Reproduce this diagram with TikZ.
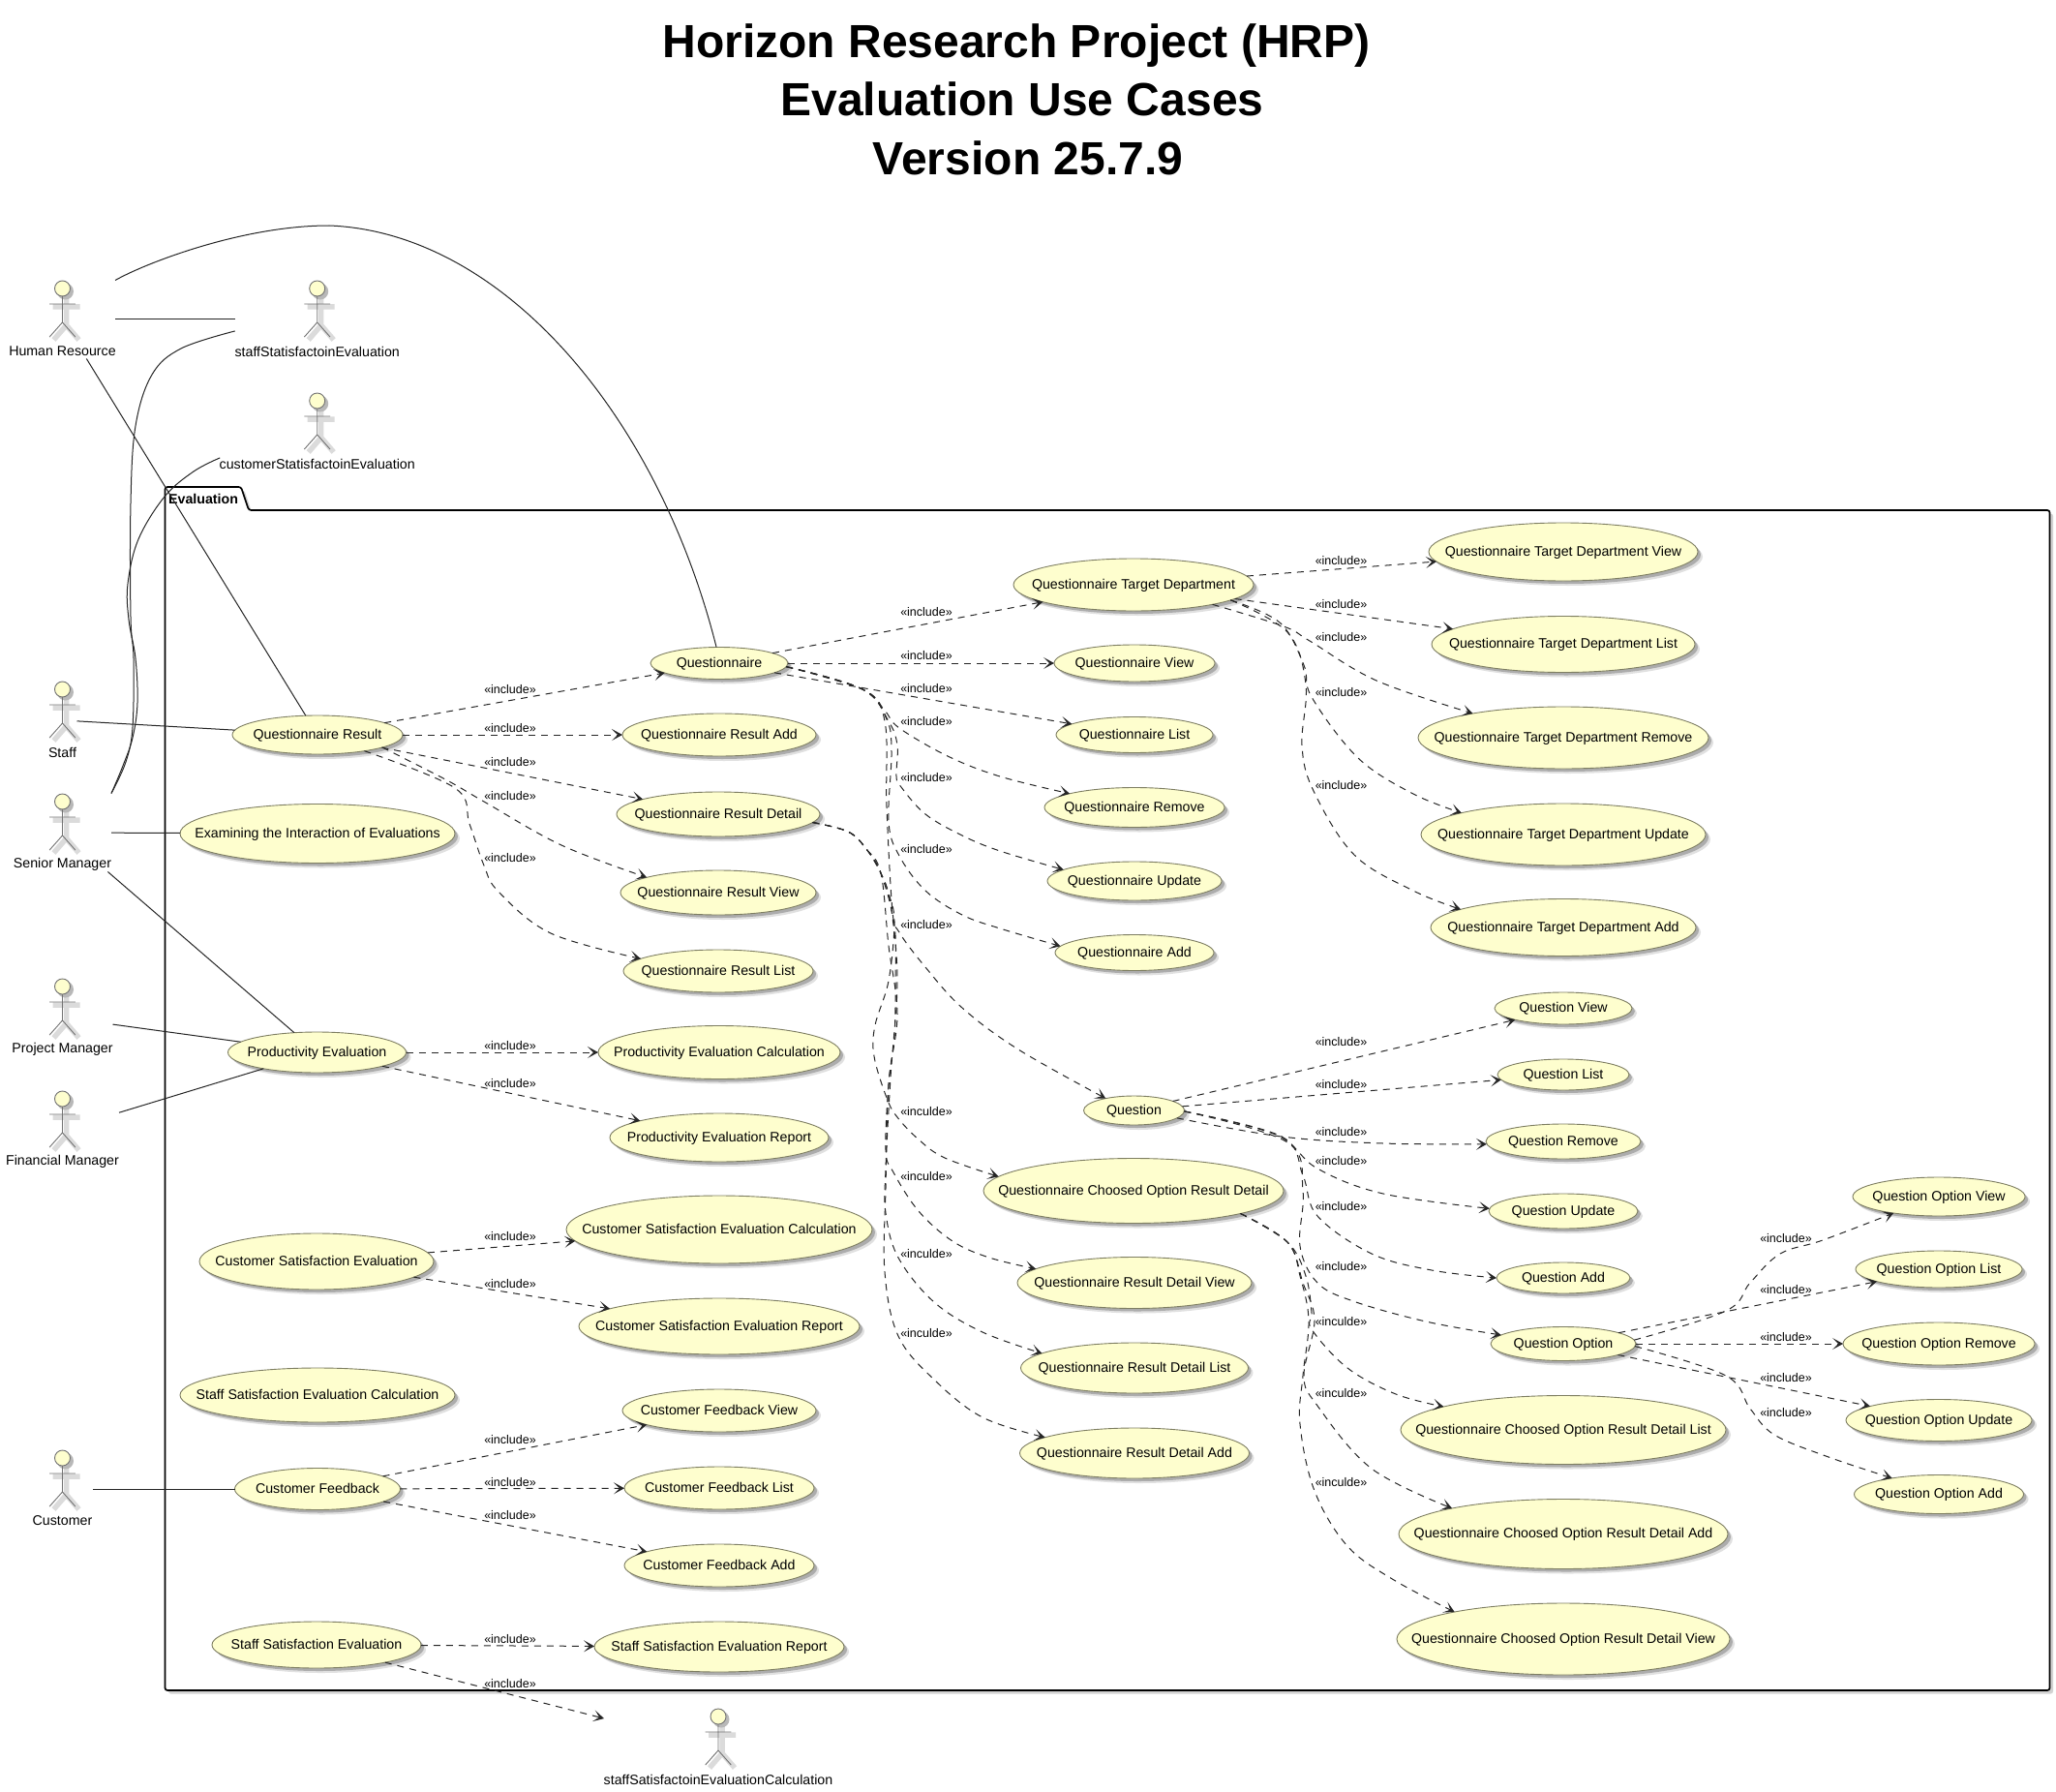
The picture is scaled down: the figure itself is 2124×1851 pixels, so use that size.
\documentclass[tikz,border=0pt]{standalone}
\usepackage{fontspec}
\setmainfont{Liberation Sans}
\usetikzlibrary{shapes.geometric,shadows,arrows.meta}
\definecolor{ucfill}{HTML}{FEFECE}
\definecolor{ucline}{HTML}{7E7E62}
\definecolor{lnk}{HTML}{262626}
\tikzset{
  ucase/.style={ellipse,draw=ucline,fill=ucfill,line width=.9pt,inner sep=0pt,outer sep=0pt,
    drop shadow={shadow xshift=5pt,shadow yshift=-5pt,fill=black!24},
    drop shadow={shadow xshift=3pt,shadow yshift=-3pt,fill=black!52}},
  actorbox/.style={rectangle,draw=none,inner sep=0pt,outer sep=0pt,minimum height=81pt},
  actorlabel/.style={inner sep=0pt,font=\fontsize{14.2}{16}\selectfont},
  actorline/.style={draw=black!55,line width=.9pt},
  actorshadow/.style={draw=black!14,line width=5.5pt},
  lbl/.style={inner sep=0pt,font=\fontsize{12.5}{14}\selectfont},
  assoc/.style={draw=lnk,line width=1pt,smooth,tension=.6},
  incl/.style={draw=lnk,line width=1pt,dash pattern=on 7pt off 6pt,smooth,tension=.6,
    -{Stealth[length=11pt,width=12pt,inset=6pt]}},
  pkg/.style={draw=black,line width=1.7pt,fill=white,rounded corners=2.5pt,
    drop shadow={shadow xshift=3.5pt,shadow yshift=-3.5pt,fill=black!35}},
  ttl/.style={inner sep=0pt,anchor=base,font=\fontsize{48}{52}\bfseries\selectfont}
}
\newcommand\uc[6]{\node[ucase,minimum width=#4*2pt,minimum height=#5*2pt] (#1) at (#2,#3)
  {\fontsize{14.2}{16}\selectfont\makebox[0pt]{\raisebox{-.3em}[0pt][0pt]{#6}}};}
\newcommand\actorfig[5]{
  \node[actorbox,minimum width=#4pt] (#1) at (#2,{#3+32}) {};
  \begin{scope}[shift={(#2,#3)}]
    \draw[actorshadow] (-10,19) -- (18,19) (4,9) -- (4,38) (4,38) -- (-9,53) (4,38) -- (17,53);
    \fill[black!28] (3,3) circle (8.5);
    \draw[actorline,fill=ucfill] (0,0) circle (8);
    \draw[actorline] (-13.3,16) -- (13.3,16) (0,8) -- (0,35) -- (-13.3,50) (0,35) -- (13.3,50);
  \end{scope}
  \node[actorlabel] (#1-l) at (#2,{#3+65}) {#5};}
\begin{document}
\begin{tikzpicture}[x=1pt,y=-1pt]
\useasboundingbox[fill=white] (0,0) rectangle (2124,1851);
% title
\node[ttl] (t1) at (1050,60) {Horizon Research Project (HRP)};
\node[ttl] (t2) at (1056,120) {Evaluation Use Cases};
\node[ttl] (t3) at (1062,181) {Version 25.7.9};
% package
\draw[pkg] (170.5,527) -- (170.5,503) -- (249,503) -- (257,527) -- (2117.5,527) -- (2117.5,1746) -- (170.5,1746) -- cycle;
\node[inner sep=0pt,anchor=west,font=\fontsize{14.2}{16}\bfseries\selectfont] (pk) at (174,515) {Evaluation};
% actors
\actorfig{hr}{64.5}{298}{109}{Human Resource}
\actorfig{sse}{327.7}{298}{170}{staffStatisfactoinEvaluation}
\actorfig{cse}{327.7}{414}{201}{customerStatisfactoinEvaluation}
\actorfig{st}{64.5}{712}{30}{Staff}
\actorfig{sm}{64.5}{828}{101}{Senior Manager}
\actorfig{pm}{64.5}{1019}{104}{Project Manager}
\actorfig{fm}{64.5}{1135}{117}{Financial Manager}
\actorfig{cu}{64.5}{1506}{63}{Customer}
\actorfig{ssc}{742}{1773}{236}{staffSatisfactoinEvaluationCalculation}
% use cases, column 1
\uc{qr}{328}{759}{88}{20}{Questionnaire Result}
\uc{ex}{328}{861}{142}{30.5}{Examining the Interaction of Evaluations}
\uc{pe}{327.5}{1087}{92}{21}{Productivity Evaluation}
\uc{cs}{327}{1303}{121}{29}{Customer Satisfaction Evaluation}
\uc{ssec}{328}{1441}{142}{28}{Staff Satisfaction Evaluation Calculation}
\uc{cf}{328}{1538}{85.5}{21.5}{Customer Feedback}
\uc{ss}{327}{1699}{108}{24}{Staff Satisfaction Evaluation}
% column 2
\uc{q}{743}{685}{71}{16.5}{Questionnaire}
\uc{qra}{743}{759}{100}{22}{Questionnaire Result Add}
\uc{rd}{742}{841}{105}{23}{Questionnaire Result Detail}
\uc{qrv}{742}{922}{101}{23}{Questionnaire Result View}
\uc{qrl}{742}{1003}{98}{22}{Questionnaire Result List}
\uc{pec}{743}{1087}{125}{27.5}{Productivity Evaluation Calculation}
\uc{per}{743}{1175}{113}{25}{Productivity Evaluation Report}
\uc{csc}{743}{1270}{158}{35}{Customer Satisfaction Evaluation Calculation}
\uc{csr}{743}{1370}{145}{29}{Customer Satisfaction Evaluation Report}
\uc{cfv}{743}{1457}{100}{22}{Customer Feedback View}
\uc{cfl}{743}{1537}{98}{22}{Customer Feedback List}
\uc{cfa}{743}{1617}{98}{22}{Customer Feedback Add}
\uc{ssr}{743}{1701}{129}{26}{Staff Satisfaction Evaluation Report}
% column 3
\uc{t}{1171}{604}{124}{27}{Questionnaire Target Department}
\uc{qv}{1172}{685}{83}{19}{Questionnaire View}
\uc{ql}{1172}{759}{81}{18.5}{Questionnaire List}
\uc{qrm}{1172}{834}{93}{20.5}{Questionnaire Remove}
\uc{qu}{1172}{910}{90}{20}{Questionnaire Update}
\uc{qa}{1172}{984}{82}{18.5}{Questionnaire Add}
\uc{qn}{1171.5}{1147}{52}{15}{Question}
\uc{cd}{1171}{1230}{155}{33.5}{Questionnaire Choosed Option Result Detail}
\uc{rdv}{1172}{1325}{121}{26.5}{Questionnaire Result Detail View}
\uc{rdl}{1172}{1413}{117.5}{26}{Questionnaire Result Detail List}
\uc{rda}{1172}{1501}{118.5}{26}{Questionnaire Result Detail Add}
% column 4
\uc{tv}{1615}{570}{139}{30}{Questionnaire Target Department View}
\uc{tl}{1615}{665.5}{136}{29}{Questionnaire Target Department List}
\uc{trm}{1615}{762}{150}{32}{Questionnaire Target Department Remove}
\uc{tu}{1615}{862}{147}{32}{Questionnaire Target Department Update}
\uc{ta}{1615}{958}{137}{29.5}{Questionnaire Target Department Add}
\uc{nv}{1615}{1041.5}{71}{16.5}{Question View}
\uc{nl}{1615}{1110}{68}{16}{Question List}
\uc{nrm}{1615}{1179}{80}{18}{Question Remove}
\uc{nu}{1615}{1251}{77}{18}{Question Update}
\uc{na}{1615}{1320}{69}{16}{Question Add}
\uc{o}{1615}{1388}{75}{17.5}{Question Option}
\uc{cdl}{1615}{1477}{168}{35.5}{Questionnaire Choosed Option Result Detail List}
\uc{cda}{1615}{1584.5}{170}{36}{Questionnaire Choosed Option Result Detail Add}
\uc{cdv}{1615}{1693}{172}{37}{Questionnaire Choosed Option Result Detail View}
% column 5
\uc{ov}{2003}{1236}{89}{20}{Question Option View}
\uc{ol}{2003}{1311}{86}{19}{Question Option List}
\uc{orm}{2003}{1388}{99}{22}{Question Option Remove}
\uc{ou}{2003}{1467}{96}{21.5}{Question Option Update}
\uc{oa}{2003}{1543.5}{87.5}{20}{Question Option Add}
% associations
\draw[assoc] (hr.north east) .. controls (150,272) and (250,233) .. (340,233) .. controls (520,240) and (680,430) .. (q.100);
\draw[assoc] (hr) -- (sse);
\draw[assoc] (hr) -- (qr);
\draw[assoc] plot coordinates {(sse.-172) (187,360) (157,387) (140,440) (135,520) (135,637) (138,680) (137,751) (130,787) (sm.north east)};
\draw[assoc] plot coordinates {(cse.-165) (200,487) (170,513) (143,557) (132,603) (133,640) (140,680) (142,726) (137,762) (127,791) (sm.north east)};
\draw[assoc] (st) -- (qr);
\draw[assoc] (sm) -- (ex);
\draw[assoc] (sm) -- (pe);
\draw[assoc] (pm) -- (pe);
\draw[assoc] (fm) -- (pe);
\draw[assoc] (cu) -- (cf);
% includes: Questionnaire Result
\draw[incl] (qr) -- (q);
\draw[incl] (qr) -- (qra);
\draw[incl] (qr) -- (rd);
\draw[incl] plot coordinates {(qr.-11) (460,805) (500,828) (580,873) (qrv.168)};
\draw[incl] plot coordinates {(qr.-19) (470,814) (485,851) (500,894) (515,921) (569,964) (qrl.171)};
\node[lbl] (l01) at (527,712.5) {«include»};
\node[lbl] (l02) at (527,752) {«include»};
\node[lbl] (l03) at (527,787) {«include»};
\node[lbl] (l04) at (527,822) {«include»};
\node[lbl] (l05) at (527,886) {«include»};
% Productivity
\draw[incl] (pe) -- (pec);
\draw[incl] (pe) -- (per);
\node[lbl] (l06) at (527,1080) {«include»};
\node[lbl] (l07) at (527,1119) {«include»};
% Customer satisfaction
\draw[incl] (cs) -- (csc);
\draw[incl] (cs) -- (csr);
\node[lbl] (l08) at (527,1277) {«include»};
\node[lbl] (l09) at (527,1326) {«include»};
% Customer feedback
\draw[incl] (cf) -- (cfv);
\draw[incl] (cf) -- (cfl);
\draw[incl] (cf) -- (cfa);
\node[lbl] (l10) at (527,1487) {«include»};
\node[lbl] (l11) at (527,1531) {«include»};
\node[lbl] (l12) at (527,1565) {«include»};
% Staff satisfaction
\draw[incl] (ss) -- (ssr);
\draw[incl] (ss) -- (ssc);
\node[lbl] (l13) at (527,1693) {«include»};
\node[lbl] (l14) at (527,1739) {«include»};
% Questionnaire
\draw[incl] (q) -- (t);
\draw[incl] (q) -- (qv);
\draw[incl] (q) -- (ql);
\draw[incl] plot coordinates {(q.-3) (891,712) (914,734) (929,752) (979,781) (1033,802) (qrm.168)};
\draw[incl] plot coordinates {(q.-3) (891,712) (918,745) (927,770) (926,802) (931,813) (956,841) (994,863) (1033,879) (qu.171)};
\draw[incl] plot coordinates {(q.-3) (891,712) (916,743) (921,777) (918,849) (929,884) (956,920) (994,945) (1033,959) (qa.175)};
\draw[incl] plot coordinates {(q.-3) (891,712) (914,745) (916,834) (922,941) (929,963) (956,999) (994,1041) (1052,1084) (qn.157)};
\node[lbl] (l15) at (957,632.5) {«include»};
\node[lbl] (l16) at (957,677.5) {«include»};
\node[lbl] (l17) at (957,710.7) {«include»};
\node[lbl] (l18) at (957,744.6) {«include»};
\node[lbl] (l19) at (957,803) {«include»};
\node[lbl] (l20) at (957,877) {«include»};
\node[lbl] (l21) at (957,955) {«include»};
% Result detail
\draw[incl] plot coordinates {(rd.-5) (876,859) (895,877) (910,902) (918,923) (924,952) (918,1013) (904,1059) (903,1091) (916,1134) (927,1154) (949,1177) (976,1196) (cd.174)};
\draw[incl] plot coordinates {(rd.-5) (876,859) (895,877) (910,902) (924,956) (925,1013) (924,1070) (918,1120) (915,1188) (923,1211) (949,1251) (984,1282) (1022,1299) (rdv.172)};
\draw[incl] plot coordinates {(rd.-5) (876,859) (895,877) (910,902) (920,934) (927,1013) (920,1113) (915,1207) (915,1253) (928,1299) (965,1345) (1015,1376) (rdl.171)};
\draw[incl] plot coordinates {(rd.-5) (876,859) (895,877) (910,902) (918,977) (927,1048) (918,1120) (915,1227) (914,1314) (928,1380) (965,1425) (1015,1464) (rda.170)};
\node[lbl] (l22) at (957,1148) {«inculde»};
\node[lbl] (l23) at (957,1215.4) {«inculde»};
\node[lbl] (l24) at (957,1294.7) {«inculde»};
\node[lbl] (l25) at (957,1376.6) {«inculde»};
% Target department
\draw[incl] (t) -- (tv);
\draw[incl] (t) -- (tl);
\draw[incl] plot coordinates {(t.-14) (1326,647) (1353,662) (1422,703) (trm.165.5)};
\draw[incl] plot coordinates {(t.-9) (1322,643) (1347,687) (1355,720) (1403,783) (1460,820) (tu.168)};
\draw[incl] plot coordinates {(t.-9) (1330,653) (1349,707) (1345,770) (1357,817) (1399,883) (1460,920) (ta.170)};
\node[lbl] (l26) at (1385.5,579) {«include»};
\node[lbl] (l27) at (1385.5,623.7) {«include»};
\node[lbl] (l28) at (1385.5,657.7) {«include»};
\node[lbl] (l29) at (1385.5,715) {«include»};
\node[lbl] (l30) at (1385.5,810.7) {«include»};
% Question
\draw[incl] (qn) -- (nv);
\draw[incl] (qn) -- (nl);
\draw[incl] plot coordinates {(qn.-10) (1324,1174) (1429,1181) (nrm.182)};
\draw[incl] plot coordinates {(qn.-1) (1318,1172) (1361,1207) (1429,1233) (nu.178)};
\draw[incl] plot coordinates {(qn.-1) (1324,1174) (1346,1214) (1361,1256) (1417,1295) (1479,1312) (na.180)};
\draw[incl] plot coordinates {(qn.-1) (1330,1180) (1346,1230) (1343,1287) (1361,1325) (1398,1344) (1473,1365) (o.172)};
\node[lbl] (l31) at (1385.5,1076.5) {«include»};
\node[lbl] (l32) at (1385.5,1119.8) {«include»};
\node[lbl] (l33) at (1385.5,1168.8) {«include»};
\node[lbl] (l34) at (1385.5,1198.6) {«include»};
\node[lbl] (l35) at (1385.5,1245.7) {«include»};
\node[lbl] (l36) at (1385.5,1307.7) {«include»};
% Choosed option
\draw[incl] plot coordinates {(cd.-12) (1330,1283) (1349,1318) (1355,1356) (1355,1373) (1392,1413) (1442,1440) (cdl.169)};
\draw[incl] plot coordinates {(cd.-12) (1330,1283) (1346,1325) (1358,1364) (1347,1421) (1361,1452) (1417,1517) (cda.167)};
\draw[incl] plot coordinates {(cd.-12) (1330,1283) (1343,1318) (1352,1364) (1346,1421) (1343,1471) (1358,1540) (1392,1597) (1440,1632) (cdv.166)};
\node[lbl] (l37) at (1385.5,1364.7) {«inculde»};
\node[lbl] (l38) at (1385.5,1438.6) {«inculde»};
\node[lbl] (l39) at (1385.5,1530.8) {«inculde»};
% Question option
\draw[incl] plot coordinates {(o.3) (1783,1354) (1808,1325) (1839,1295) (1883,1281) (ov.200)};
\draw[incl] (o) -- (ol);
\draw[incl] (o) -- (orm);
\draw[incl] (o) -- (ou);
\draw[incl] plot coordinates {(o.-2) (1783,1421) (1808,1455) (1833,1482) (1889,1505) (oa.161)};
\node[lbl] (l40) at (1845,1279) {«include»};
\node[lbl] (l41) at (1845,1331.8) {«include»};
\node[lbl] (l42) at (1845,1380.8) {«include»};
\node[lbl] (l43) at (1845,1423) {«include»};
\node[lbl] (l44) at (1845,1458.9) {«include»};
\end{tikzpicture}
\end{document}
